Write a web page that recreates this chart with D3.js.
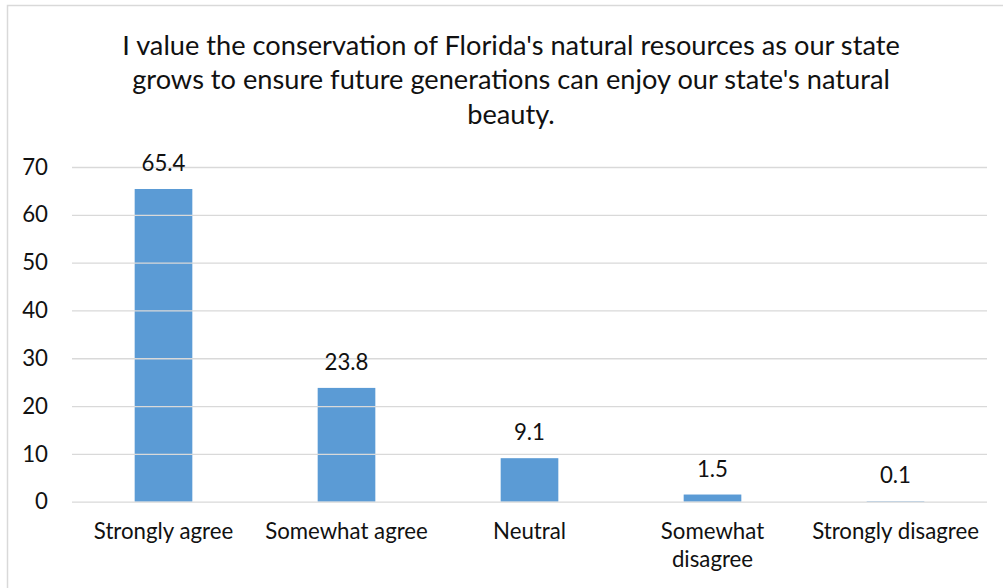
<!DOCTYPE html>
<html>
<head>
<meta charset="utf-8">
<script src="https://cdn.jsdelivr.net/npm/d3@7/dist/d3.min.js"></script>
<style>
  html, body { margin: 0; padding: 0; background: #fff; }
  svg { display: block; }
  text { font-family: Lato, "Open Sans", sans-serif; fill: #111; }
</style>
</head>
<body>
<svg id="chart" width="1003" height="588"></svg>
<script>
const titleLines = [
  "I value the conservation of Florida's natural resources as our state",
  "grows to ensure future generations can enjoy our state's natural",
  "beauty."
];
const categories = ["Strongly agree", "Somewhat agree", "Neutral", "Somewhat\ndisagree", "Strongly disagree"];
const values = [65.4, 23.8, 9.1, 1.5, 0.1];
const yTicks = [0, 10, 20, 30, 40, 50, 60, 70];

const svg = d3.select("#chart");

// chart border
svg.append("rect")
  .attr("x", 7.5).attr("y", 5.5)
  .attr("width", 1020).attr("height", 620)
  .attr("fill", "none").attr("stroke", "#d9d9d9").attr("stroke-width", 1.5);

// measure helper for font-size fitting
function fitSize(str, targetW) {
  const t = svg.append("text").attr("font-size", 100).text(str);
  const w = t.node().getComputedTextLength();
  t.remove();
  return 100 * targetW / w;
}

const titleSize = fitSize(titleLines[0], 778);
const labelSize = (fitSize("Strongly agree", 139) + fitSize("Somewhat agree", 163) + fitSize("Strongly disagree", 167)) / 3;
const numSize = labelSize;

const x = d3.scaleBand()
  .domain(categories)
  .range([72, 987])
  .paddingInner(0.685)
  .paddingOuter(0.3425);

const y = d3.scaleLinear().domain([0, 70]).range([501.7, 167]);

// title
const title = svg.append("text")
  .attr("text-anchor", "middle")
  .attr("font-size", titleSize);
titleLines.forEach((line, i) => {
  title.append("tspan").attr("x", 511).attr("y", 54.5 + i * 34.8).text(line);
});

// gridlines
const yAxis = d3.axisLeft(y).tickValues(yTicks).tickSize(-(987 - 72)).tickPadding(24);
const gy = svg.append("g").attr("transform", "translate(72,0)").call(yAxis);
gy.select(".domain").remove();
gy.selectAll(".tick line").attr("stroke", "#d9d9d9").attr("stroke-width", 1.3);
gy.selectAll(".tick text")
  .attr("font-size", numSize)
  .attr("fill", "#111")
  .style("font-family", "Lato, 'Open Sans', sans-serif");

// bars
svg.append("g").selectAll("rect")
  .data(values)
  .join("rect")
  .attr("x", (d, i) => x(categories[i]))
  .attr("width", x.bandwidth())
  .attr("y", d => y(d))
  .attr("height", d => y(0) - y(d))
  .attr("fill", "#5b9bd5");

// bring baseline gridline on top of bars' base
gy.raise();
gy.selectAll(".tick").filter(d => d !== 0).each(function(){});

// value labels
svg.append("g").selectAll("text")
  .data(values)
  .join("text")
  .attr("text-anchor", "middle")
  .attr("font-size", numSize)
  .attr("x", (d, i) => x(categories[i]) + x.bandwidth() / 2)
  .attr("y", d => y(d) - 18)
  .text(d => d3.format(".1f")(d));

// category labels
const xl = svg.append("g");
categories.forEach(c => {
  const t = xl.append("text")
    .attr("text-anchor", "middle")
    .attr("font-size", labelSize);
  c.split("\n").forEach((line, i) => {
    t.append("tspan")
      .attr("x", x(c) + x.bandwidth() / 2)
      .attr("y", 539 + i * 28.4)
      .text(line);
  });
});
</script>
</body>
</html>
